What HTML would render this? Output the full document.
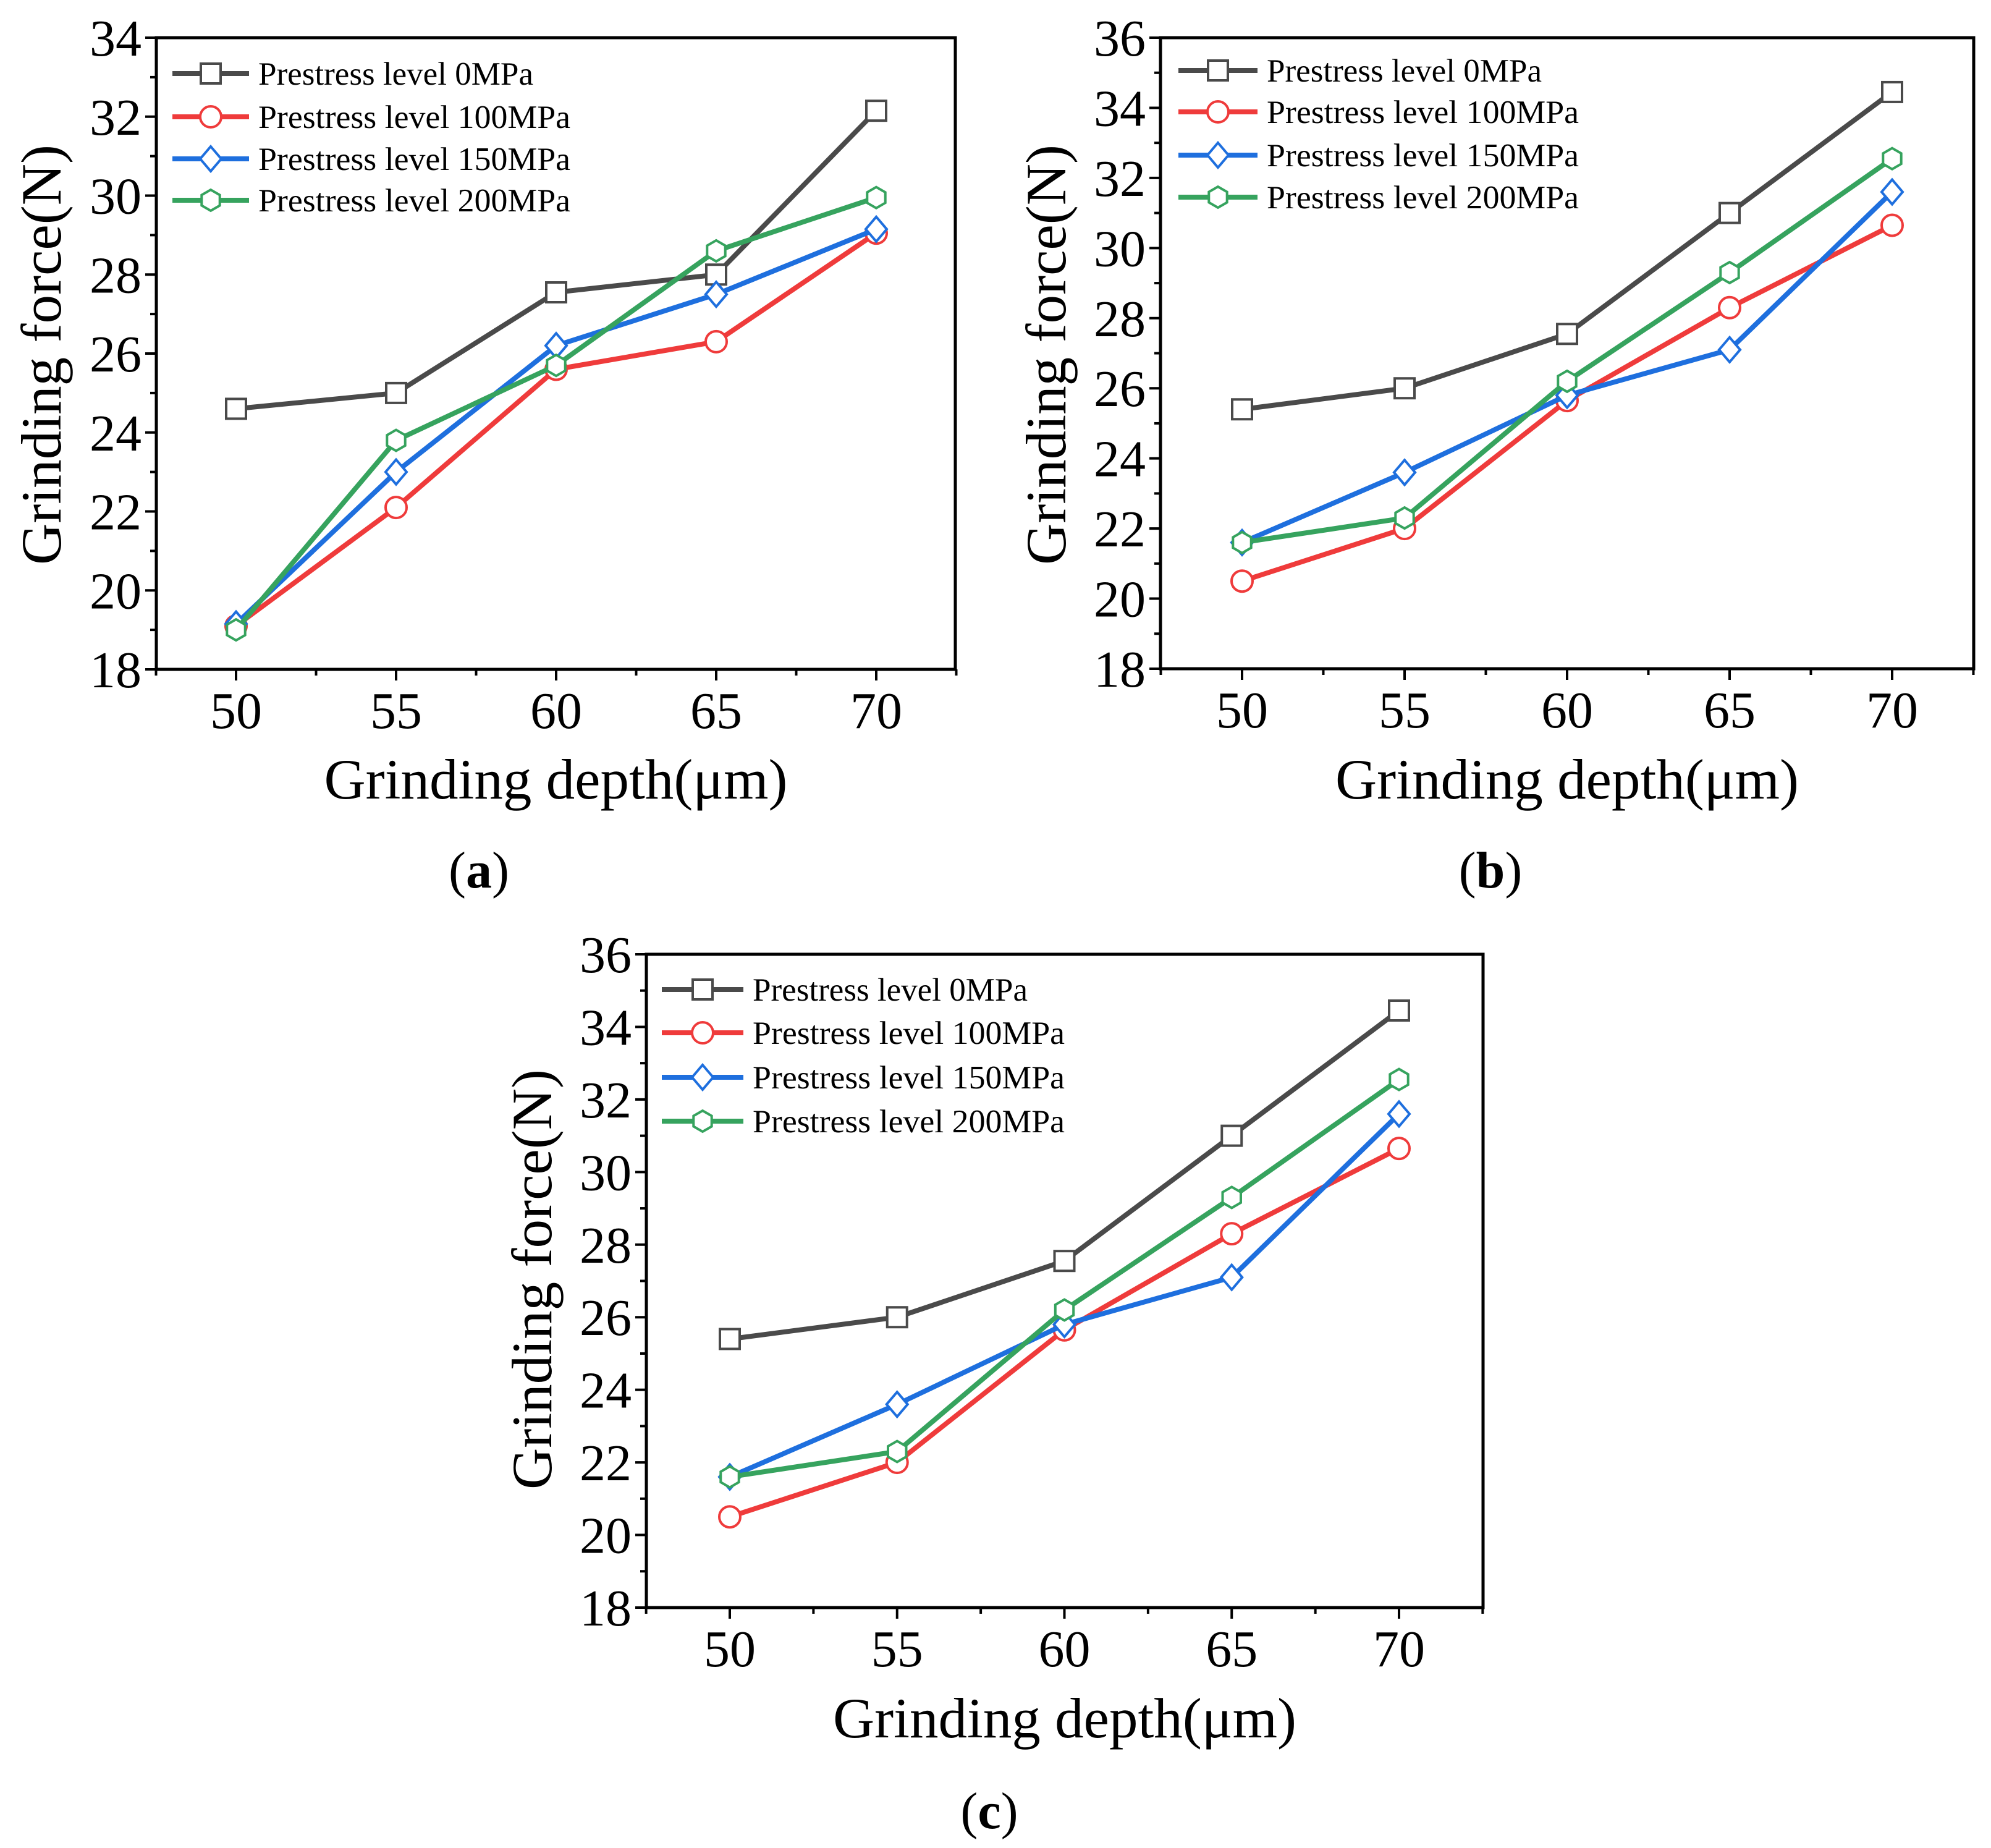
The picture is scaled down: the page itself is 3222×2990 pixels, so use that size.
<!DOCTYPE html>
<html><head><meta charset="utf-8"><style>
html,body{margin:0;padding:0;background:#fff}
svg{display:block}
text{font-family:"Liberation Serif",serif;fill:#000}
</style></head><body>
<svg id="fig" width="3222" height="2990" viewBox="0 0 3222 2990" xmlns="http://www.w3.org/2000/svg"></svg>
<script>
const categories = [50, 55, 60, 65, 70];
const seriesNames = ["Prestress level 0MPa","Prestress level 100MPa","Prestress level 150MPa","Prestress level 200MPa"];
const aS0 = [24.6, 25.0, 27.55, 28.0, 32.15];
const aS100 = [19.1, 22.1, 25.6, 26.3, 29.05];
const aS150 = [19.15, 23.0, 26.2, 27.5, 29.15];
const aS200 = [19.0, 23.8, 25.7, 28.6, 29.95];
const bS0 = [25.4, 26.0, 27.55, 31.0, 34.45];
const bS100 = [20.5, 22.0, 25.65, 28.3, 30.65];
const bS150 = [21.6, 23.6, 25.8, 27.1, 31.6];
const bS200 = [21.6, 22.3, 26.2, 29.3, 32.55];
const cS0 = [25.4, 26.0, 27.55, 31.0, 34.45];
const cS100 = [20.5, 22.0, 25.65, 28.3, 30.65];
const cS150 = [21.6, 23.6, 25.8, 27.1, 31.6];
const cS200 = [21.6, 22.3, 26.2, 29.3, 32.55];
const yTicksA = [18,20,22,24,26,28,30,32,34];
const yTicksBC = [18,20,22,24,26,28,30,32,34,36];

const NS="http://www.w3.org/2000/svg";
const svg=document.getElementById('fig');
const colors=["#4a4a4a","#ef3b3b","#1e6fde","#36a35e"];
const markers=["square","circle","diamond","hex"];
function mk(tag,attrs,parent){const e=document.createElementNS(NS,tag);for(const k in attrs)e.setAttribute(k,attrs[k]);(parent||svg).appendChild(e);return e;}
function marker(g,type,x,y,col){
  const r=17;let e;
  if(type==="square") e=mk('rect',{x:x-r+1,y:y-r+1,width:2*r-2,height:2*r-2},g);
  else if(type==="circle") e=mk('circle',{cx:x,cy:y,r:r},g);
  else if(type==="diamond") e=mk('polygon',{points:`${x},${y-r-3} ${x+r},${y} ${x},${y+r+3} ${x-r},${y}`},g);
  else {let p=[];for(let i=0;i<6;i++){const a=Math.PI/6+i*Math.PI/3;p.push((x+r*Math.cos(a)).toFixed(1)+","+(y+r*Math.sin(a)).toFixed(1));}e=mk('polygon',{points:p.join(' ')},g);}
  e.setAttribute('fill','#fff');e.setAttribute('stroke',col);e.setAttribute('stroke-width','4');
  return e;
}
function panel(id,cfg,data,yTicks){
  const g=mk('g',{});
  
  
  const {L,R,T,B,x50,x70,ymin,ymax}=cfg;
  const xs=v=>x50+(v-50)*(x70-x50)/20;
  const ys=v=>B-(v-ymin)*(B-T)/(ymax-ymin);
  const frame=mk('rect',{x:L,y:T,width:R-L,height:B-T,fill:'none',stroke:'#000','stroke-width':5},g);
  
  yTicks.forEach((v,i)=>{
    const y=ys(v);
    mk('line',{x1:L-18,x2:L,y1:y,y2:y,stroke:'#000','stroke-width':4},g);
    if(i<yTicks.length-1){const ym=ys(v+1);mk('line',{x1:L-10,x2:L,y1:ym,y2:ym,stroke:'#000','stroke-width':4},g);}
    const t=mk('text',{x:L-24,y:y+29,'text-anchor':'end','font-size':84},g);t.textContent=v;
    
  });
  for(let v=47.5;v<=72.51;v+=2.5){const x=xs(v);const major=(v%5===0);
    mk('line',{x1:x,x2:x,y1:B,y2:B+(major?18:10),stroke:'#000','stroke-width':4},g);}
  categories.forEach(v=>{const t=mk('text',{x:xs(v),y:B+95,'text-anchor':'middle','font-size':84},g);t.textContent=v;
    });
  data.forEach((arr,si)=>{
    const sg=mk('g',{},g);
    
    
    const pts=arr.map((v,i)=>xs(categories[i]).toFixed(1)+","+ys(v).toFixed(1)).join(' ');
    mk('polyline',{points:pts,fill:'none',stroke:colors[si],'stroke-width':8,'stroke-linejoin':'round'},sg);
    arr.forEach((v,i)=>{const m=marker(sg,markers[si],xs(categories[i]),ys(v),colors[si]);
      });
  });
  const lg=mk('g',{},g);
  
  
  seriesNames.forEach((n,si)=>{
    const y=cfg.legY[si];
    const eg=mk('g',{},lg);
    
    
    mk('line',{x1:cfg.legX1,x2:cfg.legX2,y1:y,y2:y,stroke:colors[si],'stroke-width':8},eg);
    marker(eg,markers[si],(cfg.legX1+cfg.legX2)/2,y,colors[si]);
    const t=mk('text',{x:cfg.legTX,y:y+18,'font-size':53,textLength:si===0?445:505,lengthAdjust:'spacingAndGlyphs'},eg);t.textContent=n;
  });
  const xt=mk('text',{x:(L+R)/2,y:cfg.xtY,'text-anchor':'middle','font-size':92,textLength:750,lengthAdjust:'spacingAndGlyphs'},g);
  xt.textContent="Grinding depth(μm)";
  
  const yt=mk('text',{x:0,y:0,'text-anchor':'middle','font-size':92,textLength:680,lengthAdjust:'spacingAndGlyphs',transform:`translate(${cfg.ytX},${cfg.ytY}) rotate(-90)`},g);
  yt.textContent="Grinding force(N)";
  
  const cap=mk('text',{x:cfg.capX,y:cfg.capY,'text-anchor':'middle','font-size':84},g);
  cap.innerHTML='(<tspan font-weight="bold">'+id+'</tspan>)';
  
}
panel('a',{L:253,R:1546,T:61,B:1083,x50:382,x70:1418,ymin:18,ymax:34,
  legY:[119,189,257,324],legX1:279,legX2:403,legTX:418,xtY:1292,ytX:98,ytY:574,capX:775,capY:1436},
  [aS0,aS100,aS150,aS200],yTicksA);
panel('b',{L:1878,R:3194,T:61,B:1082,x50:2010,x70:3062,ymin:18,ymax:36,
  legY:[114,181,251,319],legX1:1907,legX2:2035,legTX:2050,xtY:1292,ytX:1724,ytY:574,capX:2412,capY:1436},
  [bS0,bS100,bS150,bS200],yTicksBC);
panel('c',{L:1046,R:2400,T:1544,B:2601,x50:1181,x70:2264,ymin:18,ymax:36,
  legY:[1601,1671,1743,1814],legX1:1071,legX2:1203,legTX:1218,xtY:2811,ytX:892,ytY:2070,capX:1601,capY:2958},
  [cS0,cS100,cS150,cS200],yTicksBC);
</script>
</body></html>
